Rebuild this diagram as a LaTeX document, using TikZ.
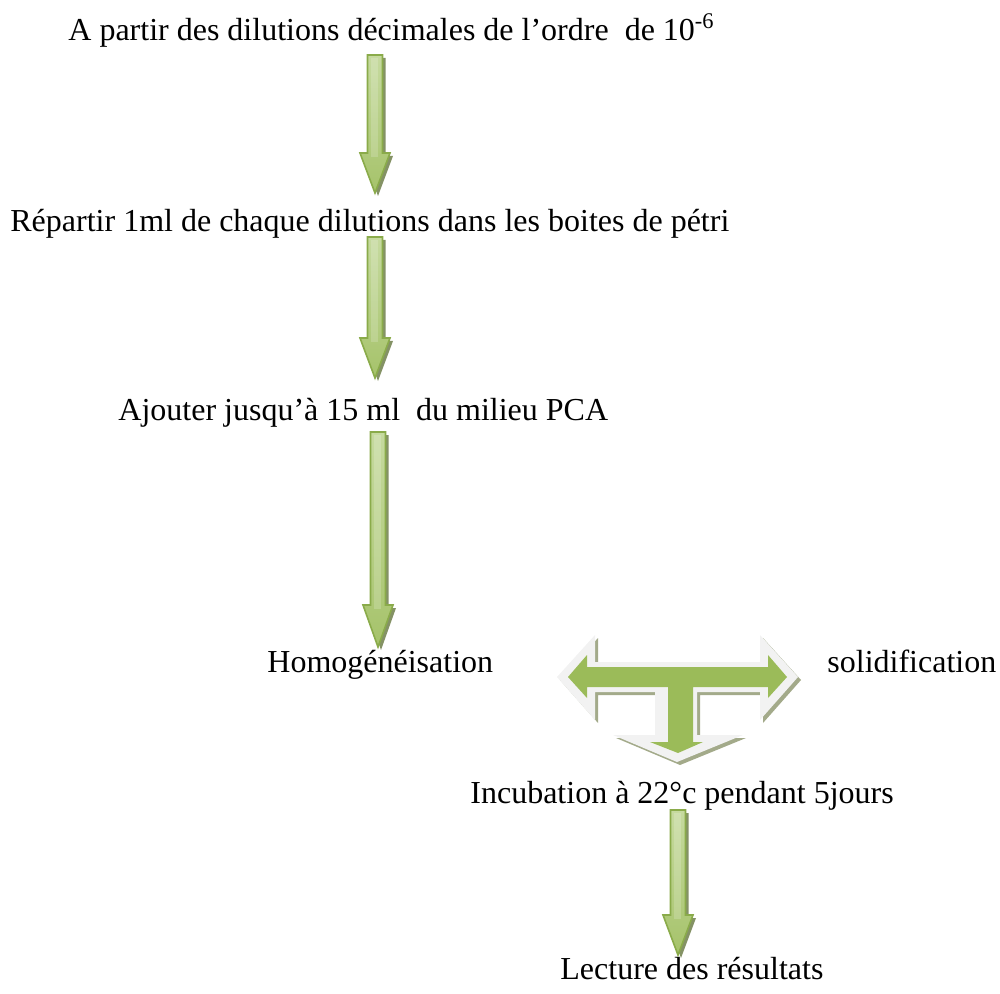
\documentclass[tikz,border=0pt]{standalone}
\usepackage{fontspec}
\setmainfont{Liberation Serif}
\definecolor{gdark}{HTML}{8AAB4A}
\definecolor{gmid}{HTML}{9BBB59}
\definecolor{glight}{HTML}{C6DA9F}
\definecolor{gshade}{HTML}{6F7F4A}
\definecolor{tlight}{HTML}{F2F2F2}
\definecolor{tshade}{HTML}{A3AA8A}
\newcommand\garrowdown[4]{%
  \fill[gshade,opacity=.85] (#1-7.5+3,#2+3) -- (#1+7.5+3,#2+3) -- (#1+7.5+3,#3+3) -- (#1+15+3,#3+3) -- (#1+3,#4+3) -- (#1-15+3,#3+3) -- (#1-7.5+3,#3+3) -- cycle;
  \shade[top color=glight,middle color=gmid,bottom color=gmid!75!glight,draw=gdark,line width=0.8pt]
    (#1-7.5,#2) -- (#1+7.5,#2) -- (#1+7.5,#3) -- (#1+15,#3) -- (#1,#4) -- (#1-15,#3) -- (#1-7.5,#3) -- cycle;
  \fill[white,opacity=.18] (#1-4.5,#2+3) -- (#1+3,#2+3) -- (#1+3,#3+4) -- (#1-4.5,#3+4) -- cycle;
}
\begin{document}
\begin{tikzpicture}[x=0.5pt,y=-0.5pt,
  txt/.style={font=\fontsize{16}{19}\selectfont, inner sep=0pt, anchor=base west}]
\useasboundingbox (0,0) rectangle (1000,994);

\node[txt] (t1) at (68,41) {A partir des dilutions décimales de l’ordre\ \ de 10\textsuperscript{-6}};
\node[txt] (t2) at (10,232) {Répartir 1ml de chaque dilutions dans les boites de pétri};
\node[txt] (t3) at (118,420) {Ajouter jusqu’à 15 ml\ \ du milieu PCA};
\node[txt] (t4) at (267,672) {Homogénéisation};
\node[txt] (t5) at (827,672) {solidification};
\node[txt] (t6) at (470,803) {Incubation à 22°c pendant 5jours};
\node[txt] (t7) at (560,979) {Lecture des résultats};

\garrowdown{375}{55}{153}{193}
\garrowdown{375}{237}{338}{378}
\garrowdown{378}{432}{605}{647}
\garrowdown{678}{810}{915}{955}

% T-shaped arrow
\fill[tshade] (598,638) -- (560,680) -- (598,723) -- (598,695) -- (658,695) -- (658,738) -- (616,738) -- (680,765) -- (746,738) -- (700,738) -- (700,695) -- (763,695) -- (763,723) -- (801,680) -- (763,638) -- (763,665) -- (598,665) -- cycle;
\fill[tlight] (595,635) -- (557,677) -- (595,720) -- (595,692) -- (655,692) -- (655,735) -- (613,735) -- (677,762) -- (743,735) -- (697,735) -- (697,692) -- (760,692) -- (760,720) -- (798,677) -- (760,635) -- (760,662) -- (595,662) -- cycle;
\fill[gmid] (587,655) -- (568,677) -- (587,698) -- (587,687) -- (668,687) -- (668,742) -- (650,742) -- (678,753) -- (703,742) -- (693,742) -- (693,687) -- (768,687) -- (768,698) -- (787,677) -- (768,655) -- (768,667) -- (587,667) -- cycle;
\end{tikzpicture}
\end{document}
